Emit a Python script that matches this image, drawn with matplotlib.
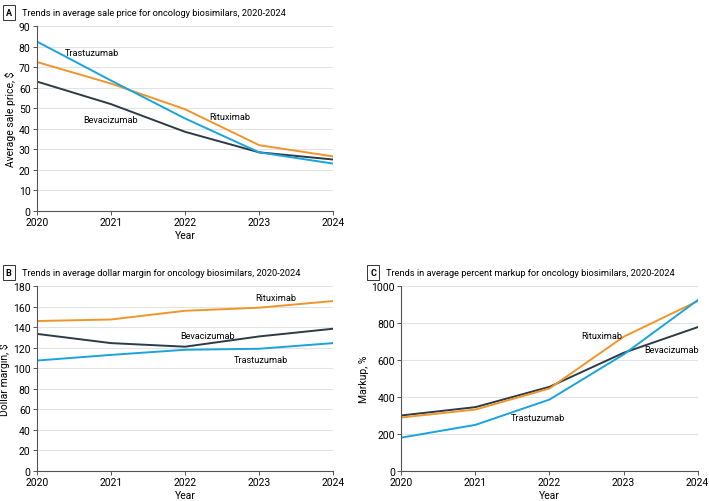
import matplotlib
matplotlib.use("Agg")
import matplotlib.pyplot as plt

plt.rcParams['font.family'] = ['Roboto', 'DejaVu Sans']

# --- data ---
years = [2020, 2021, 2022, 2023, 2024]

# A: average sale price, $
asp_trastuzumab = [82.5, 63.5, 45, 28.5, 23]
asp_rituximab = [72.5, 62, 49.5, 32, 26.5]
asp_bevacizumab = [63, 52, 38.5, 28.5, 25]

# B: average dollar margin, $
margin_rituximab = [146, 147.5, 156, 159, 165.5]
margin_bevacizumab = [133.5, 124.5, 121, 131, 138.5]
margin_trastuzumab = [107.5, 113, 118, 119, 124.5]

# C: average percent markup, %
markup_bevacizumab = [300, 345, 455, 639, 778]
markup_rituximab = [289, 332, 446, 726, 919]
markup_trastuzumab = [180, 249, 386, 630, 924]

BLUE = '#1ba3dc'
ORANGE = '#f0952b'
DARK = '#2c3b46'

fig = plt.figure(figsize=(7.09, 5.02), dpi=100)


def style_axes(ax, ymax, step, ylabel):
    ax.set_xlim(2020, 2024)
    ax.set_ylim(0, ymax)
    ax.set_xticks(years)
    ax.set_yticks(range(0, ymax + 1, step))
    ax.grid(axis='y', color='#e3e3e3', linewidth=0.8)
    ax.set_axisbelow(True)
    for s in ['top', 'right']:
        ax.spines[s].set_visible(False)
    for s in ['left', 'bottom']:
        ax.spines[s].set_color('#555555')
        ax.spines[s].set_linewidth(0.8)
    ax.tick_params(labelsize=7.5, length=3, width=0.7, color='#555555', pad=1.5)
    ax.set_xlabel('Year', fontsize=7.5, labelpad=2)
    ax.set_ylabel(ylabel, fontsize=7.5, labelpad=2)


def panel_title(ax, letter, text):
    ax.text(-0.105, 1.075, letter, transform=ax.transAxes, fontsize=6.5,
            fontweight='bold', ha='left', va='center',
            bbox=dict(boxstyle='square,pad=0.35', fc='white', ec='#333333', lw=0.7))
    ax.text(-0.05, 1.075, text, transform=ax.transAxes, fontsize=6.7,
            ha='left', va='center')


# Panel A
axA = fig.add_axes([0.052, 0.578, 0.418, 0.368])
axA.plot(years, asp_bevacizumab, color=DARK, lw=1.4)
axA.plot(years, asp_rituximab, color=ORANGE, lw=1.4)
axA.plot(years, asp_trastuzumab, color=BLUE, lw=1.4)
style_axes(axA, 90, 10, 'Average sale price, $')
panel_title(axA, 'A', 'Trends in average sale price for oncology biosimilars, 2020-2024')
axA.text(2020.75, 76.9, 'Trastuzumab', fontsize=6.6, ha='center', va='center')
axA.text(2021.0, 44.3, 'Bevacizumab', fontsize=6.6, ha='center', va='center')
axA.text(2022.6, 46.2, 'Rituximab', fontsize=6.6, ha='center', va='center')

# Panel B
axB = fig.add_axes([0.052, 0.060, 0.418, 0.368])
axB.plot(years, margin_bevacizumab, color=DARK, lw=1.4)
axB.plot(years, margin_rituximab, color=ORANGE, lw=1.4)
axB.plot(years, margin_trastuzumab, color=BLUE, lw=1.4)
style_axes(axB, 180, 20, 'Dollar margin, $')
panel_title(axB, 'B', 'Trends in average dollar margin for oncology biosimilars, 2020-2024')
axB.text(2023.22, 168.6, 'Rituximab', fontsize=6.6, ha='center', va='center')
axB.text(2022.3, 132.3, 'Bevacizumab', fontsize=6.6, ha='center', va='center')
axB.text(2023.03, 108.7, 'Trastuzumab', fontsize=6.6, ha='center', va='center')

# Panel C
axC = fig.add_axes([0.566, 0.060, 0.418, 0.368])
axC.plot(years, markup_bevacizumab, color=DARK, lw=1.4)
axC.plot(years, markup_rituximab, color=ORANGE, lw=1.4)
axC.plot(years, markup_trastuzumab, color=BLUE, lw=1.4)
style_axes(axC, 1000, 200, 'Markup, %')
panel_title(axC, 'C', 'Trends in average percent markup for oncology biosimilars, 2020-2024')
axC.text(2022.70, 731, 'Rituximab', fontsize=6.6, ha='center', va='center')
axC.text(2023.65, 659, 'Bevacizumab', fontsize=6.6, ha='center', va='center')
axC.text(2021.85, 289, 'Trastuzumab', fontsize=6.6, ha='center', va='center')

fig.savefig('out.png', dpi=100)
